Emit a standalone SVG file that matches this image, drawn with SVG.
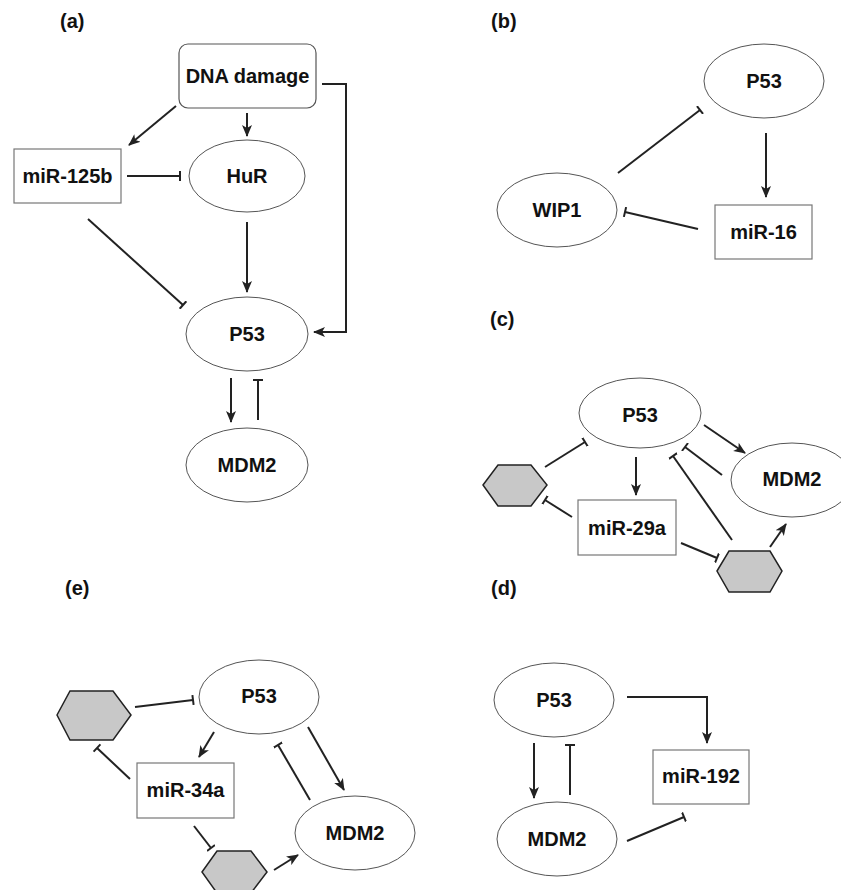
<svg xmlns="http://www.w3.org/2000/svg" width="841" height="890" viewBox="0 0 841 890">
<style>
text{font-family:"Liberation Sans",Arial,sans-serif;font-weight:bold;font-size:20px;fill:#111;text-anchor:middle}
.lbl{text-anchor:start;font-size:20px}
.ell{fill:#fff;stroke:#555;stroke-width:1}
.box{fill:#fff;stroke:#777;stroke-width:1.2}
.hex{fill:#c8c8c8;stroke:#222;stroke-width:1.5}
.act{fill:none;stroke:#222;stroke-width:2;marker-end:url(#arr)}
.inh{fill:none;stroke:#222;stroke-width:2;marker-end:url(#bar)}
</style>
<defs>
<marker id="arr" viewBox="0 0 12 12" refX="11" refY="6" markerWidth="12" markerHeight="12" markerUnits="userSpaceOnUse" orient="auto">
<path d="M0,1 L12,6 L0,11 L3,6 z" fill="#222"/>
</marker>
<marker id="bar" viewBox="0 0 4 10" refX="2" refY="5" markerWidth="4" markerHeight="10" markerUnits="userSpaceOnUse" orient="auto">
<line x1="2" y1="0" x2="2" y2="10" stroke="#222" stroke-width="2"/>
</marker>
</defs>

<g id="labels">
<text class="lbl" x="60" y="28">(a)</text>
<text class="lbl" x="491" y="28">(b)</text>
<text class="lbl" x="490" y="326">(c)</text>
<text class="lbl" x="65" y="595">(e)</text>
<text class="lbl" x="491" y="595">(d)</text>
</g>

<!-- Panel a -->
<g id="a-dna"><rect class="box" x="179" y="44" width="137" height="64" rx="9" style="stroke:#555"/><text x="247.5" y="83">DNA damage</text></g>
<g id="a-mir125b"><rect class="box" x="14" y="149" width="107" height="54"/><text x="67.5" y="183">miR-125b</text></g>
<g id="a-hur"><ellipse class="ell" cx="247" cy="176" rx="58" ry="36"/><text x="247" y="183">HuR</text></g>
<g id="a-p53"><ellipse class="ell" cx="247" cy="334" rx="61" ry="37"/><text x="247" y="341">P53</text></g>
<g id="a-mdm2"><ellipse class="ell" cx="247" cy="465" rx="61" ry="37"/><text x="247" y="472">MDM2</text></g>

<!-- Panel b -->
<g id="b-p53"><ellipse class="ell" cx="764" cy="81" rx="60" ry="37"/><text x="764" y="88">P53</text></g>
<g id="b-wip1"><ellipse class="ell" cx="557" cy="210" rx="60" ry="37"/><text x="557" y="217">WIP1</text></g>
<g id="b-mir16"><rect class="box" x="715" y="205" width="97" height="54"/><text x="763.5" y="239">miR-16</text></g>

<!-- Panel c -->
<g id="c-p53"><ellipse class="ell" cx="640" cy="413" rx="61" ry="35"/><text x="640" y="422">P53</text></g>
<g id="c-mdm2"><ellipse class="ell" cx="792" cy="480" rx="61" ry="37"/><text x="792" y="486">MDM2</text></g>
<g id="c-hex1"><polygon class="hex" points="483,485 498,465 531,465 547,485 531,506 498,506"/></g>
<g id="c-mir29a"><rect class="box" x="578" y="500" width="98" height="55"/><text x="627" y="535">miR-29a</text></g>
<g id="c-hex2"><polygon class="hex" points="717,571 729,551 770,551 782,571 770,592 729,592"/></g>

<!-- Panel e -->
<g id="e-p53"><ellipse class="ell" cx="259" cy="697" rx="60" ry="37"/><text x="259" y="703">P53</text></g>
<g id="e-hex1"><polygon class="hex" points="57,715 70,691 113,691 131,715 113,740 70,740"/></g>
<g id="e-mir34a"><rect class="box" x="137" y="763" width="97" height="55"/><text x="185.5" y="797">miR-34a</text></g>
<g id="e-mdm2"><ellipse class="ell" cx="355" cy="833" rx="60" ry="37"/><text x="355" y="840">MDM2</text></g>
<g id="e-hex2"><polygon class="hex" points="202,872 217,851 251,851 267,872 251,893 217,893"/></g>

<!-- Panel d -->
<g id="d-p53"><ellipse class="ell" cx="554" cy="700" rx="60" ry="37"/><text x="554" y="707">P53</text></g>
<g id="d-mdm2"><ellipse class="ell" cx="557" cy="839" rx="60" ry="37"/><text x="557" y="846">MDM2</text></g>
<g id="d-mir192"><rect class="box" x="653" y="750" width="96" height="54"/><text x="701" y="783">miR-192</text></g>

<g id="connectors">
<!-- a -->
<path class="act" d="M176,106 L129,145"/>
<path class="act" d="M247,113 L247,136"/>
<path class="act" d="M322,84 H346 V332 H314"/>
<path class="inh" d="M127,176 L180,176"/>
<path class="inh" d="M88,219 L183,305"/>
<path class="act" d="M247,222 L247,292"/>
<path class="act" d="M231,378 L231,422"/>
<path class="inh" d="M258,420 L258,380"/>
<!-- b -->
<path class="inh" d="M618,173 L700,110"/>
<path class="act" d="M766,133 L766,197"/>
<path class="inh" d="M698,229 L625,212"/>
<!-- c -->
<path class="inh" d="M545,467 L585,442"/>
<path class="act" d="M636,457 L636,495"/>
<path class="inh" d="M572,517 L545,500"/>
<path class="inh" d="M681,543 L717,558"/>
<path class="inh" d="M732,540 L673,456"/>
<path class="inh" d="M722,475 L685,447"/>
<path class="act" d="M704,425 L745,453"/>
<path class="act" d="M770,547 L786,524"/>
<!-- e -->
<path class="inh" d="M135,707 L193,700"/>
<path class="act" d="M214,732 L199,757"/>
<path class="inh" d="M130,779 L97,748"/>
<path class="inh" d="M194,826 L211,848"/>
<path class="act" d="M274,870 L298,855"/>
<path class="inh" d="M310,800 L278,745"/>
<path class="act" d="M308,727 L344,790"/>
<!-- d -->
<path class="act" d="M627,697 H707 V743"/>
<path class="act" d="M534,743 L534,798"/>
<path class="inh" d="M570,795 L570,745"/>
<path class="inh" d="M627,841 L684,817"/>
</g>
</svg>
